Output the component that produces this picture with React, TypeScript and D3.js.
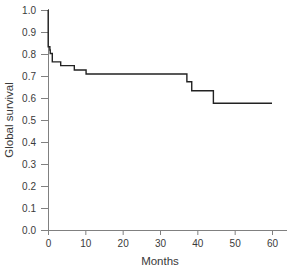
import { useRef, useEffect } from 'react'
import * as d3 from 'd3'

// Kaplan-Meier steps
const months = [0, 0.05, 0.5, 0.6, 1.15, 3.4, 7.05, 10.2, 37.2, 38.5, 44.3, 60]
const survival = [1.0, 0.833, 0.818, 0.802, 0.764, 0.747, 0.727, 0.709, 0.674, 0.633, 0.576, 0.576]
const xTicks = [0, 10, 20, 30, 40, 50, 60]
const yTicks = [0, 0.1, 0.2, 0.3, 0.4, 0.5, 0.6, 0.7, 0.8, 0.9, 1.0]

const width = 289
const height = 267

export default function App() {
  const svgRef = useRef<SVGSVGElement>(null)

  useEffect(() => {
    if (!svgRef.current) return
    const svg = d3.select(svgRef.current)
    svg.selectAll('*').remove()

    const margin = { top: 10, right: 17, bottom: 37, left: 48 }
    const x = d3.scaleLinear().domain([0, 60]).range([margin.left, width - margin.right])
    const y = d3.scaleLinear().domain([0, 1]).range([height - margin.bottom, margin.top])

    const axisColor = '#808080'
    const textColor = '#3a3a3a'
    const font = 'Liberation Sans, Arial, sans-serif'

    // x axis
    const xAxis = svg.append('g')
      .attr('transform', `translate(0,${y(0)})`)
      .call(d3.axisBottom(x).tickValues(xTicks).tickSize(5).tickPadding(5).tickSizeOuter(0))
    xAxis.select('.domain').attr('d', `M${x(0)},0.5H${width - 2}`)
    xAxis.selectAll('line').attr('stroke', axisColor)
    xAxis.select('.domain').attr('stroke', axisColor)
    xAxis.selectAll('text').attr('fill', textColor).attr('font-size', 10).attr('font-family', font)

    // y axis
    const yAxis = svg.append('g')
      .attr('transform', `translate(${x(0)},0)`)
      .call(d3.axisLeft(y).tickValues(yTicks).tickFormat(d3.format('.1f')).tickSize(7).tickPadding(5).tickSizeOuter(0))
    yAxis.selectAll('line').attr('stroke', axisColor)
    yAxis.select('.domain').attr('stroke', axisColor)
    yAxis.selectAll('text').attr('fill', textColor).attr('font-size', 10).attr('font-family', font)

    const line = d3.line<number>()
      .x((_: number, i: number) => x(months[i]))
      .y((d: number) => y(d))
      .curve(d3.curveStepAfter)

    svg.append('path')
      .datum(survival)
      .attr('fill', 'none')
      .attr('stroke', '#222')
      .attr('stroke-width', 1.4)
      .attr('d', line)

    svg.append('text')
      .attr('x', (x(0) + x(60)) / 2)
      .attr('y', 265)
      .attr('text-anchor', 'middle')
      .attr('font-size', 11.5)
      .attr('font-family', font)
      .attr('fill', textColor)
      .text('Months')

    svg.append('text')
      .attr('transform', `translate(13,${(y(0) + y(1)) / 2}) rotate(-90)`)
      .attr('text-anchor', 'middle')
      .attr('font-size', 11.5)
      .attr('font-family', font)
      .attr('fill', textColor)
      .text('Global survival')
  }, [])

  return (
    <svg
      ref={svgRef}
      width={width}
      height={height}
      style={{ position: 'absolute', left: 0, top: 0, background: '#fff' }}
    />
  )
}
